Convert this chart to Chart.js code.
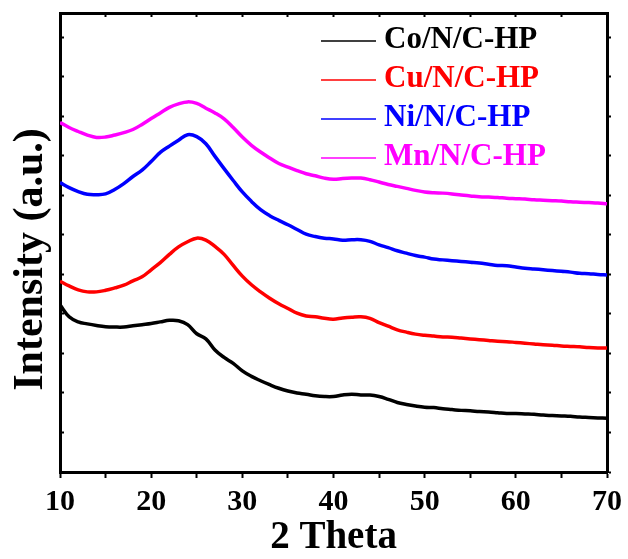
<!DOCTYPE html>
<html>
<head>
<meta charset="utf-8">
<script src="https://cdn.jsdelivr.net/npm/chart.js@4.4.1/dist/chart.umd.min.js"></script>
<style>
html, body { margin: 0; padding: 0; background: #ffffff; }
canvas { display: block; }
</style>
</head>
<body>
<canvas id="c" width="628" height="559"></canvas>
<script>
// ---- data ----
const twoTheta = [10,11,12,13,14,15,16,17,18,19,20,21,22,23,24,25,26,27,28,29,30,31,32,33,34,35,36,37,38,39,40,41,42,43,44,45,46,47,48,49,50,51,52,53,54,55,56,57,58,59,60,61,62,63,64,65,66,67,68,69,70];

const coNC = [423,393,380,375,371,368,367,367,370,373,376,380,384,383,373,350,337,309,290,275,256,242,231,221,212,205,200,197,193,191,191,195,197,195,195,191,184,176,171,167,164,163,160,158,156,155,153,152,150,148,148,147,146,144,143,142,141,139,138,137,136];

const cuNC = [483,471,461,456,456,460,466,473,484,494,512,530,551,570,583,592,587,571,551,523,496,474,456,440,426,414,402,395,393,389,387,390,392,393,389,378,369,360,354,349,346,344,342,341,339,337,335,333,331,330,328,326,324,322,321,319,318,317,315,314,314];

const niNC = [733,720,710,703,702,704,715,730,748,764,786,809,825,840,854,849,831,799,768,738,709,685,664,649,637,626,614,602,596,592,590,587,588,588,584,575,568,560,554,548,544,539,537,535,533,531,529,526,523,522,519,516,514,512,510,508,506,503,502,500,499];

const mnNC = [885,872,862,853,847,848,853,859,867,880,895,909,923,932,937,933,921,909,894,872,848,827,810,795,781,772,763,755,750,744,741,743,744,744,740,734,728,723,718,713,709,707,706,704,701,699,697,696,695,693,692,691,689,688,687,686,684,683,682,681,679];

const seriesLabels = ['Co/N/C-HP', 'Cu/N/C-HP', 'Ni/N/C-HP', 'Mn/N/C-HP'];
const seriesColors = ['#000000', '#ff0000', '#0000ff', '#ff00ff'];
const seriesValues = [coNC, cuNC, niNC, mnNC];

const xTickValues = [10,15,20,25,30,35,40,45,50,55,60,65,70];
const xTickLabels = [10,20,30,40,50,60,70];
const yTickValues = [0,100,200,300,400,500,600,700,800,900,1000,1100];
const yMax = 1162;

const xTitle = '2 Theta';
const yTitle = 'Intensity (a.u.)';

// ---- chart ----
Chart.defaults.font.family = '"Liberation Serif", "Times New Roman", serif';
Chart.defaults.color = '#000000';

const datasets = seriesValues.map((vals, i) => ({
  label: seriesLabels[i],
  data: twoTheta.map((t, k) => ({ x: t, y: vals[k] })),
  borderColor: seriesColors[i],
  backgroundColor: seriesColors[i],
  borderWidth: 3.5,
  pointRadius: 0,
  tension: 0.4,
  fill: false
}));

const setTicks = (vals) => (s) => { s.ticks = vals.map(v => ({ value: v })); };

const insideLegend = {
  id: 'insideLegend',
  afterDraw(chart) {
    const { ctx, chartArea } = chart;
    ctx.save();
    ctx.font = 'bold 31px "Liberation Serif", "Times New Roman", serif';
    ctx.textBaseline = 'middle';
    ctx.textAlign = 'left';
    chart.data.datasets.forEach((ds, i) => {
      const y = chartArea.top + 27 + i * 39;
      ctx.strokeStyle = ds.borderColor;
      ctx.lineWidth = 1.5;
      ctx.beginPath();
      ctx.moveTo(chartArea.right - 286, y + 1);
      ctx.lineTo(chartArea.right - 231, y + 1);
      ctx.stroke();
      ctx.fillStyle = ds.borderColor;
      ctx.fillText(ds.label, chartArea.right - 223, y);
    });
    ctx.restore();
  }
};

const shiftYTitle = {
  id: 'shiftYTitle',
  afterLayout(chart) {
    const s = chart.scales.yt;
    if (s) { s.top += 17; s.bottom += 17; }
  }
};

new Chart(document.getElementById('c'), {
  type: 'line',
  data: { datasets },
  plugins: [insideLegend, shiftYTitle],
  options: {
    responsive: false,
    animation: false,
    layout: { padding: 0 },
    plugins: { legend: { display: false }, tooltip: { enabled: false } },
    scales: {
      x: {
        type: 'linear', position: 'bottom', min: 10, max: 70,
        afterBuildTicks: setTicks(xTickValues),
        ticks: {
          autoSkip: false, maxRotation: 0, minRotation: 0, padding: 6, color: '#000',
          font: { size: 30, weight: 'bold' },
          callback: (v) => xTickLabels.includes(v) ? String(v) : ''
        },
        grid: { drawOnChartArea: false, drawTicks: true, tickLength: 6, tickWidth: 2, tickColor: '#000' },
        border: { display: true, color: '#000', width: 3 },
        title: { display: true, text: xTitle, color: '#000', font: { size: 39, weight: 'bold', lineHeight: 1.1 }, padding: { top: 0, bottom: 0 } },
        afterFit: (s) => { s.height = 87; }
      },
      xTop: {
        type: 'linear', position: 'top', min: 10, max: 70,
        afterBuildTicks: setTicks(xTickValues),
        ticks: { display: false },
        grid: { drawOnChartArea: false, drawTicks: true, tickLength: -4, tickWidth: 2, tickColor: '#000' },
        border: { display: true, color: '#000', width: 3 },
        afterFit: (s) => { s.height = 13; }
      },
      y: {
        type: 'linear', position: 'left', min: 0, max: yMax, weight: 0,
        afterBuildTicks: setTicks(yTickValues),
        ticks: { display: false },
        grid: { drawOnChartArea: false, drawTicks: true, tickLength: -4, tickWidth: 2, tickColor: '#000' },
        border: { display: true, color: '#000', width: 3 },
        afterFit: (s) => { s.width = 16; }
      },
      yt: {
        type: 'linear', position: 'left', weight: 10, min: 0, max: 1,
        ticks: { display: false },
        grid: { display: false, drawTicks: false },
        border: { display: false },
        title: { display: true, text: yTitle, color: '#000', font: { size: 42, weight: 'bold', lineHeight: 1.2 }, padding: { top: 6, bottom: 0 } },
        afterFit: (s) => { s.width = 44; }
      },
      yRight: {
        type: 'linear', position: 'right', min: 0, max: yMax,
        afterBuildTicks: setTicks(yTickValues),
        ticks: { display: false },
        grid: { drawOnChartArea: false, drawTicks: true, tickLength: 4, tickWidth: 2, tickColor: '#000' },
        border: { display: true, color: '#000', width: 3 },
        afterFit: (s) => { s.width = 20; }
      }
    }
  }
});
</script>
</body>
</html>
